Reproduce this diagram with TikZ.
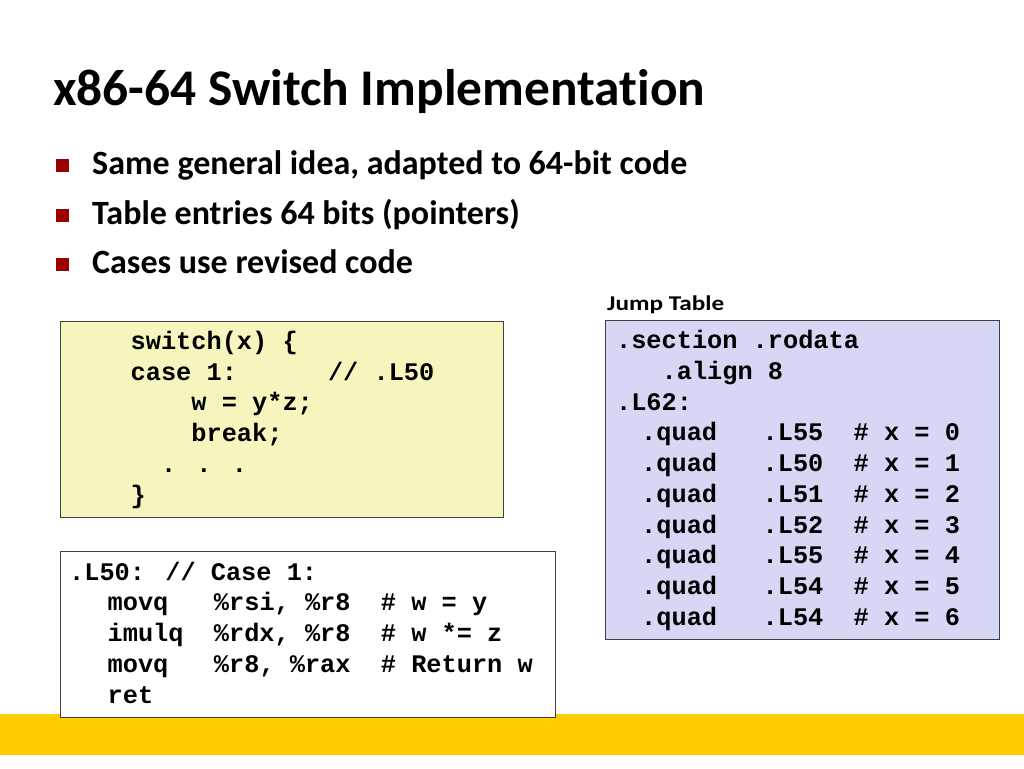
\documentclass[tikz,border=0pt]{standalone}
\usepackage{fontspec}
\usepackage{graphicx}
\setmainfont{Carlito}[RawFeature=-liga]
\newfontfamily\codefont{Liberation Mono}
\newcommand\sps[1]{\hspace*{\fpeval{0.6*#1}em}}
\definecolor{bulred}{RGB}{153,0,0}
\definecolor{yelbox}{RGB}{247,245,190}
\definecolor{lavbox}{RGB}{214,214,245}
\definecolor{barcol}{RGB}{255,204,0}
\definecolor{boxline}{RGB}{64,64,64}
\begin{document}
\begin{tikzpicture}[x=1pt,y=-1pt,
  code/.style={font=\codefont\bfseries\fontsize{25.3}{30}\selectfont, inner sep=0, anchor=base west},
  bul/.style={font=\bfseries\fontsize{34}{40}\selectfont, inner sep=0, anchor=base west},
  sq/.style={fill=bulred, minimum size=13pt, inner sep=0},
  codebox/.style={draw=boxline, line width=1.2pt, inner sep=0, anchor=north west}]
\useasboundingbox (0,0) rectangle (1024,768);
\fill[white] (0,0) rectangle (1024,768);
% bottom bar
\fill[barcol] (0,714) rectangle (1024,755);
% title
\node[font=\bfseries\fontsize{51.4}{60}\selectfont, inner sep=0, anchor=base west] (title) at (53,105) {x86-64 Switch Implementation};
% bullets
\node[sq] (sq1) at (62,165) {};
\node[bul] (b1) at (92,174) {Same general idea, adapted to 64-bit code};
\node[sq] (sq2) at (62,215) {};
\node[bul] (b2) at (92,224) {Table entries 64 bits (pointers)};
\node[sq] (sq3) at (62,264) {};
\node[bul] (b3) at (92,273) {Cases use revised code};
% boxes
\node[codebox, fill=yelbox, minimum width=443pt, minimum height=196pt] (cbox) at (60,321) {};
\node[codebox, fill=white, minimum width=495pt, minimum height=166pt] (abox) at (60,551) {};
\node[codebox, fill=lavbox, minimum width=394pt, minimum height=319pt] (jbox) at (605,320) {};
\node[font=\bfseries\fontsize{21}{25}\selectfont, inner sep=0, anchor=base west] (jtl) at (607,310) {\scalebox{1.2}[1]{Jump Table}};
% C code
\node[code] (c1) at (130.5,349.3) {switch(x) \{};
\node[code] (c2) at (130.5,380.1) {case 1:\sps{6}// .L50};
\node[code] (c3) at (130.5,410.9) {\sps{4}w = y*z;};
\node[code] (c4) at (130.5,441.7) {\sps{4}break;};
\node[code] (c5) at (130.5,472.5) {\sps{2}. . .};
\node[code] (c6) at (130.5,503.3) {\}};
% assembly
\node[code] (a1) at (69,580) {.L50: // Case 1:};
\node[code] (a2) at (107.5,610.75) {movq\sps{3}\%rsi, \%r8\sps{2}\# w = y};
\node[code] (a3) at (107.5,641.5) {imulq\sps{2}\%rdx, \%r8\sps{2}\# w *= z};
\node[code] (a4) at (107.5,672.25) {movq\sps{3}\%r8, \%rax\sps{2}\# Return w};
\node[code] (a5) at (107.5,703) {ret};
% jump table
\node[code] (j1) at (615.9,348.5) {.section .rodata};
\node[code] (j2) at (615.9,379.25) {\sps{3}.align 8};
\node[code] (j3) at (615.9,410) {.L62:};
\node[code] (j4) at (641,440.75) {.quad\sps{3}.L55\sps{2}\# x = 0};
\node[code] (j5) at (641,471.5) {.quad\sps{3}.L50\sps{2}\# x = 1};
\node[code] (j6) at (641,502.25) {.quad\sps{3}.L51\sps{2}\# x = 2};
\node[code] (j7) at (641,533) {.quad\sps{3}.L52\sps{2}\# x = 3};
\node[code] (j8) at (641,563.75) {.quad\sps{3}.L55\sps{2}\# x = 4};
\node[code] (j9) at (641,594.5) {.quad\sps{3}.L54\sps{2}\# x = 5};
\node[code] (j10) at (641,625.25) {.quad\sps{3}.L54\sps{2}\# x = 6};
\end{tikzpicture}
\end{document}
